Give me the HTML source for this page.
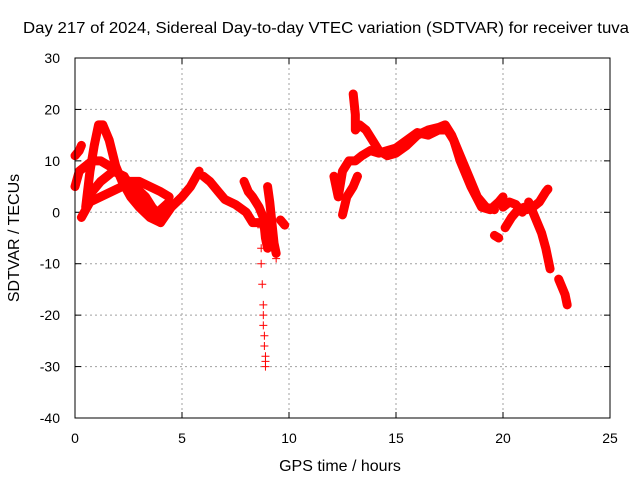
<!DOCTYPE html>
<html><head><meta charset="utf-8"><style>
html,body{margin:0;padding:0;background:#fff;}
svg text{font-family:"Liberation Sans",sans-serif;font-size:14px;fill:#000;}
</style></head><body>
<svg id="chart" width="640" height="480">
<text x="326" y="33" text-anchor="middle" style="font-size:16px" textLength="606" lengthAdjust="spacingAndGlyphs">Day 217 of 2024, Sidereal Day-to-day VTEC variation (SDTVAR) for receiver tuva</text>
<text x="340" y="471" text-anchor="middle" style="font-size:16px">GPS time / hours</text>
<text transform="translate(19,238) rotate(-90)" text-anchor="middle" style="font-size:16px">SDTVAR / TECUs</text>
<g id="grid"></g><g id="marks"></g>
<rect x="75" y="58" width="535" height="360" fill="none" stroke="#000" stroke-width="1"/>
</svg>
<script>
const xTicks=[0,5,10,15,20,25];
const yTicks=[30,20,10,0,-10,-20,-30,-40];
const t1=[[0,5],[0.2,8],[0.5,9],[0.8,10],[1.2,10],[1.6,9],[2.2,7],[2.8,5],[3.3,3],[3.6,1],[4.0,-1]];
const t2=[[0.5,1],[0.7,8],[0.9,13],[1.1,17],[1.3,17],[1.6,14],[1.9,9],[2.2,6],[2.6,3],[3.0,1],[3.5,-1],[4.0,-2]];
const t3=[[0.3,-1],[0.7,2],[1.2,3],[1.7,4],[2.2,5],[2.6,6],[3.0,6],[3.5,5],[4.0,4],[4.4,3]];
const t4=[[0.6,3],[1.2,6],[1.8,8],[2.3,7],[2.8,3],[3.2,1],[3.6,-1],[4.0,0.5],[4.4,2]];
const t5=[[0,11],[0.2,12],[0.3,13]];
const t6=[[4.0,-2],[4.5,1],[5.0,3],[5.4,5],[5.8,8]];
const t7=[[6.0,7],[6.3,6],[6.7,4],[7.0,2.5],[7.5,1.5],[8.0,0],[8.3,-2],[8.6,-2]];
const t8=[[7.9,6],[8.1,4],[8.3,3],[8.6,1],[8.8,-1],[8.9,-5],[9.0,-7]];
const t9=[[9.0,5],[9.1,2],[9.2,-2],[9.3,-6],[9.4,-8]];
const t10=[[9.6,-1.5],[9.8,-2.5]];
const t11=[[12.1,7],[12.2,5],[12.3,3],[12.5,8],[12.8,10],[13.1,10],[13.4,11],[13.8,12],[14.2,11.5],[14.6,12],[15,12.5],[15.5,14],[16,15.5],[16.5,15],[17,16],[17.4,16],[17.7,14],[18,10],[18.5,5],[19,1],[19.4,0.5],[19.8,2],[20,3]];
const t12=[[12.5,-0.5],[12.7,3],[13,5],[13.2,7]];
const t13=[[13.0,23],[13.1,19],[13.1,16],[13.3,17],[13.6,16],[13.9,14],[14.2,12],[14.6,11],[15,11.5],[15.5,13],[16,15],[16.5,16],[17,16.5],[17.3,17],[17.6,15],[18,11],[18.4,7],[18.8,3],[19.2,1],[19.6,0.5]];
const t14=[[19.6,-4.5],[19.8,-5]];
const t15=[[20,1],[20.3,2],[20.6,1.5],[20.9,0]];
const t16=[[20.1,-3],[20.4,-1],[20.7,0.5],[21,1]];
const t17=[[21.1,0.5],[21.4,1],[21.7,2],[22,4],[22.1,4.5]];
const t18=[[21.2,2],[21.5,-1],[21.8,-4],[22,-7],[22.2,-11]];
const t19=[[22.6,-13],[22.9,-16],[23,-18]];
const sparse=[[8.7,-3],[8.7,-7],[8.7,-10],[8.75,-14],[8.8,-18],[8.8,-20],[8.8,-22],[8.85,-24],[8.85,-26],[8.9,-28],[8.9,-29],[8.9,-30],[9.4,-9]];
const tracks=[t1,t2,t3,t4,t5,t6,t7,t8,t9,t10,t11,t12,t13,t14,t15,t16,t17,t18,t19];
const X=h=>75+h*535/25, Y=v=>58+(30-v)*360/70;
const NS="http://www.w3.org/2000/svg";
const svg=document.getElementById('chart'),grid=document.getElementById('grid'),marks=document.getElementById('marks');
function mk(tag,attrs,parent){const e=document.createElementNS(NS,tag);for(const k in attrs)e.setAttribute(k,attrs[k]);parent.appendChild(e);return e;}
xTicks.forEach(t=>{
 if(t>0&&t<25){const l=mk('line',{x1:X(t),x2:X(t),y1:58,y2:418,stroke:'#a0a0a0','stroke-dasharray':'2,3'},grid);
 
 }
 mk('line',{x1:X(t),x2:X(t),y1:418,y2:412,stroke:'#000'},grid);
 mk('line',{x1:X(t),x2:X(t),y1:58,y2:64,stroke:'#000'},grid);
 const tx=mk('text',{x:X(t),y:443,'text-anchor':'middle'},svg);tx.textContent=t;
 
 
});
yTicks.forEach(t=>{
 if(t<30&&t>-40){const l=mk('line',{x1:75,x2:610,y1:Y(t),y2:Y(t),stroke:'#a0a0a0','stroke-dasharray':'2,3'},grid);
 
 }
 mk('line',{x1:75,x2:81,y1:Y(t),y2:Y(t),stroke:'#000'},grid);
 mk('line',{x1:610,x2:604,y1:Y(t),y2:Y(t),stroke:'#000'},grid);
 const tx=mk('text',{x:60,y:Y(t)+5,'text-anchor':'end'},svg);tx.textContent=t;
 
 
});
function plus(h,v){const p=mk('path',{d:`M${X(h)-4},${Y(v)}h8M${X(h)},${Y(v)-4}v8`,stroke:'#f00','stroke-width':1},marks);
 
 }
tracks.forEach(tr=>{
 const pl=mk('polyline',{points:tr.map(p=>X(p[0])+','+Y(p[1])).join(' '),fill:'none',stroke:'#f00','stroke-width':9,'stroke-linejoin':'round','stroke-linecap':'round'},marks);
 
 
 tr.forEach(p=>plus(p[0],p[1]));
});
sparse.forEach(p=>plus(p[0],p[1]));
</script>
</body></html>
